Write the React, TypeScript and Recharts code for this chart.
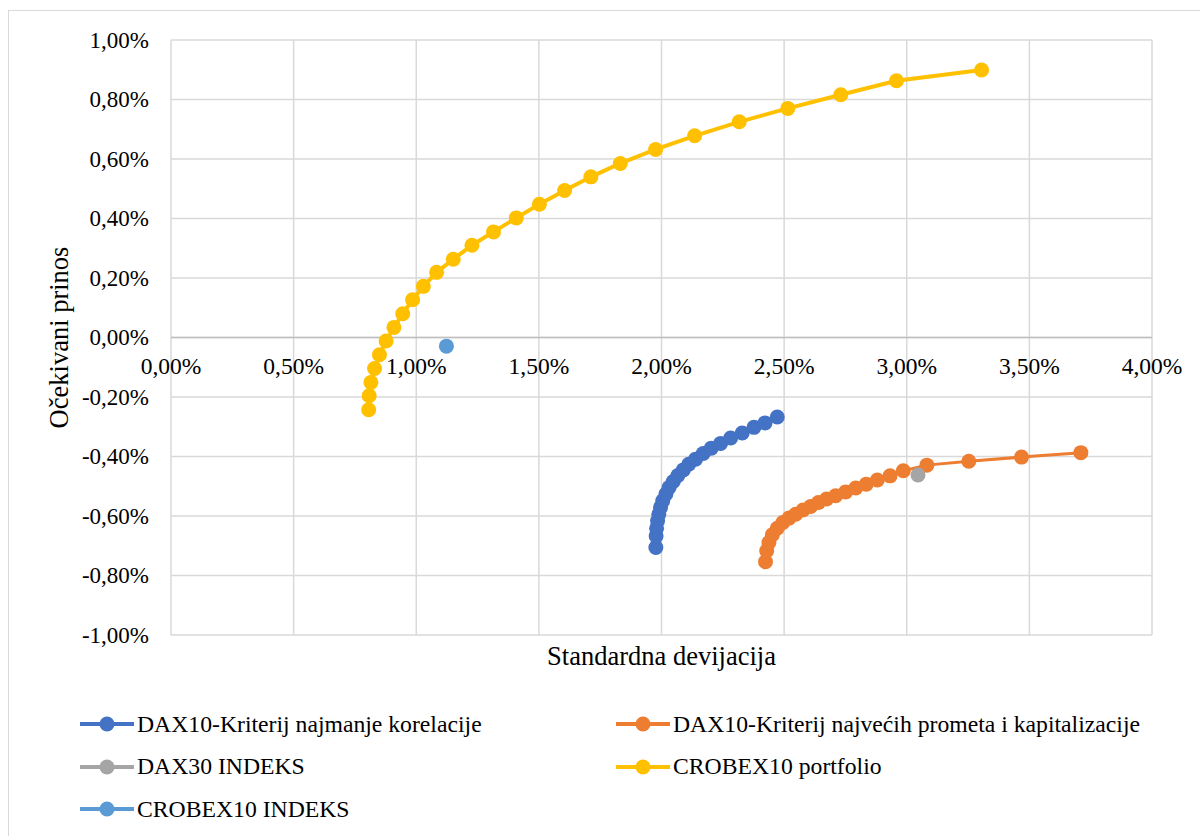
import { ScatterChart, Scatter, XAxis, YAxis, CartesianGrid, ReferenceLine, Legend } from 'recharts';

// x = standardna devijacija (%), y = očekivani prinos (%)
const dax10Korelacija = [
  { x: 1.977, y: -0.706 }, { x: 1.978, y: -0.667 }, { x: 1.980, y: -0.641 }, { x: 1.984, y: -0.616 },
  { x: 1.989, y: -0.594 }, { x: 1.996, y: -0.571 }, { x: 2.005, y: -0.549 }, { x: 2.018, y: -0.526 },
  { x: 2.031, y: -0.504 }, { x: 2.048, y: -0.484 }, { x: 2.067, y: -0.464 }, { x: 2.089, y: -0.445 },
  { x: 2.111, y: -0.426 }, { x: 2.139, y: -0.409 }, { x: 2.170, y: -0.390 }, { x: 2.203, y: -0.372 },
  { x: 2.241, y: -0.356 }, { x: 2.282, y: -0.338 }, { x: 2.329, y: -0.321 }, { x: 2.377, y: -0.302 },
  { x: 2.422, y: -0.287 }, { x: 2.472, y: -0.267 },
];

const dax10Promet = [
  { x: 2.424, y: -0.754 }, { x: 2.429, y: -0.717 }, { x: 2.438, y: -0.689 }, { x: 2.452, y: -0.663 },
  { x: 2.472, y: -0.641 }, { x: 2.495, y: -0.622 }, { x: 2.520, y: -0.607 }, { x: 2.547, y: -0.594 },
  { x: 2.577, y: -0.580 }, { x: 2.608, y: -0.568 }, { x: 2.640, y: -0.555 }, { x: 2.673, y: -0.543 },
  { x: 2.710, y: -0.532 }, { x: 2.751, y: -0.519 }, { x: 2.792, y: -0.506 }, { x: 2.835, y: -0.493 },
  { x: 2.880, y: -0.479 }, { x: 2.932, y: -0.465 }, { x: 2.986, y: -0.448 }, { x: 3.082, y: -0.429 },
  { x: 3.253, y: -0.416 }, { x: 3.468, y: -0.402 }, { x: 3.710, y: -0.387 },
];

const dax30Indeks = [{ x: 3.046, y: -0.462 }];

const crobex10Portfolio = [
  { x: 0.806, y: -0.243 }, { x: 0.808, y: -0.196 }, { x: 0.815, y: -0.151 }, { x: 0.830, y: -0.104 },
  { x: 0.850, y: -0.058 }, { x: 0.877, y: -0.012 }, { x: 0.909, y: 0.034 }, { x: 0.945, y: 0.080 },
  { x: 0.985, y: 0.127 }, { x: 1.029, y: 0.172 }, { x: 1.083, y: 0.219 }, { x: 1.151, y: 0.263 },
  { x: 1.227, y: 0.310 }, { x: 1.315, y: 0.355 }, { x: 1.408, y: 0.402 }, { x: 1.502, y: 0.448 },
  { x: 1.605, y: 0.494 }, { x: 1.712, y: 0.540 }, { x: 1.832, y: 0.585 }, { x: 1.976, y: 0.632 },
  { x: 2.135, y: 0.678 }, { x: 2.317, y: 0.725 }, { x: 2.515, y: 0.770 }, { x: 2.731, y: 0.816 },
  { x: 2.958, y: 0.863 }, { x: 3.305, y: 0.899 },
];

const crobex10Indeks = [{ x: 1.123, y: -0.029 }];

const seriesNames = [
  'DAX10-Kriterij najmanje korelacije',
  'DAX10-Kriterij najvećih prometa i kapitalizacije',
  'DAX30 INDEKS',
  'CROBEX10 portfolio',
  'CROBEX10 INDEKS',
];
const seriesColors = ['#4472C4', '#ED7D31', '#A5A5A5', '#FFC000', '#5B9BD5'];

const xTicks = [0, 0.5, 1, 1.5, 2, 2.5, 3, 3.5, 4];
const yTicks = [-1, -0.8, -0.6, -0.4, -0.2, 0, 0.2, 0.4, 0.6, 0.8, 1];

const FONT = 'Liberation Serif, Times New Roman, DejaVu Serif, serif';
const PLOT_TOP = 40;
const PLOT_BOTTOM = 635;

const fmt = (v: number) => v.toFixed(2).replace('.', ',') + '%';

const dot = (color: string) => (p: any) => <circle cx={p.cx} cy={p.cy} r={7.5} fill={color} />;

function XTick({ x, payload }: any) {
  // x axis crosses at y = 0
  const zeroY = PLOT_TOP + (1 / 2) * (PLOT_BOTTOM - PLOT_TOP);
  return (
    <text x={x} y={zeroY + 28} textAnchor="middle" dominantBaseline="central" style={{ fontFamily: FONT }} fontSize={23.5} fill="#000">
      {fmt(payload.value)}
    </text>
  );
}

function YTick({ y, payload }: any) {
  return (
    <text x={149} y={y} textAnchor="end" dominantBaseline="central" style={{ fontFamily: FONT }} fontSize={23} fill="#000">
      {fmt(payload.value)}
    </text>
  );
}

function LegendBox({ payload }: any) {
  const items = [...(payload || [])].sort((a: any, b: any) => seriesNames.indexOf(a.value) - seriesNames.indexOf(b.value));
  return (
    <div style={{ display: 'grid', gridTemplateColumns: '536px 536px', fontFamily: FONT, fontSize: 23.7, color: '#000' }}>
      {items.map((e: any) => {
        const c = seriesColors[seriesNames.indexOf(e.value)];
        return (
          <div key={e.value} style={{ display: 'flex', alignItems: 'center', height: 42.5 }}>
            <svg width={54} height={16}>
              <line x1={0} y1={8} x2={54} y2={8} stroke={c} strokeWidth={4} />
              <circle cx={27} cy={8} r={7.5} fill={c} />
            </svg>
            <span style={{ marginLeft: 3, whiteSpace: 'nowrap' }}>{e.value}</span>
          </div>
        );
      })}
    </div>
  );
}

const seriesData = [dax10Korelacija, dax10Promet, dax30Indeks, crobex10Portfolio, crobex10Indeks];

export default function App() {
  return (
    <div style={{ position: 'absolute', left: 0, top: 0, width: 1200, height: 836, background: '#fff', fontFamily: FONT }}>
      <div style={{ position: 'absolute', left: 8, top: 10, width: 1192, height: 826, borderTop: '1px solid #d9d9d9', borderLeft: '1px solid #d9d9d9' }} />
      <ScatterChart width={1200} height={836} margin={{ top: 40, right: 48, bottom: 171, left: 0 }}>
        <CartesianGrid stroke="#d9d9d9" strokeWidth={1.5} />
        <XAxis
          type="number"
          dataKey="x"
          domain={[0, 4]}
          ticks={xTicks}
          height={30}
          axisLine={false}
          tickLine={false}
          tick={<XTick />}
          label={(p: any) => (
            <text x={p.viewBox.x + p.viewBox.width / 2} y={p.viewBox.y + 21} textAnchor="middle" dominantBaseline="central" style={{ fontFamily: FONT }} fontSize={26.5} fill="#000">
              Standardna devijacija
            </text>
          )}
        />
        <YAxis
          type="number"
          dataKey="y"
          domain={[-1, 1]}
          ticks={yTicks}
          width={171}
          axisLine={false}
          tickLine={false}
          tick={<YTick />}
          label={(p: any) => (
            <text x={59} y={p.viewBox.y + p.viewBox.height / 2} transform={`rotate(-90 59 ${p.viewBox.y + p.viewBox.height / 2})`} textAnchor="middle" dominantBaseline="central" style={{ fontFamily: FONT }} fontSize={26.5} fill="#000">
              Očekivani prinos
            </text>
          )}
        />
        <ReferenceLine y={0} stroke="#bfbfbf" strokeWidth={1.5} />
        <Legend
          layout="horizontal"
          verticalAlign="middle"
          align="center"
          wrapperStyle={{ top: 703, left: 80, width: 1100 }}
          content={<LegendBox />}
        />
        {seriesNames.map((name, i) => (
          <Scatter
            key={name}
            name={name}
            data={seriesData[i]}
            fill={seriesColors[i]}
            line={{ stroke: seriesColors[i], strokeWidth: i === 3 ? 4 : 3 }}
            shape={dot(seriesColors[i])}
            isAnimationActive={false}
          />
        ))}
      </ScatterChart>
    </div>
  );
}
